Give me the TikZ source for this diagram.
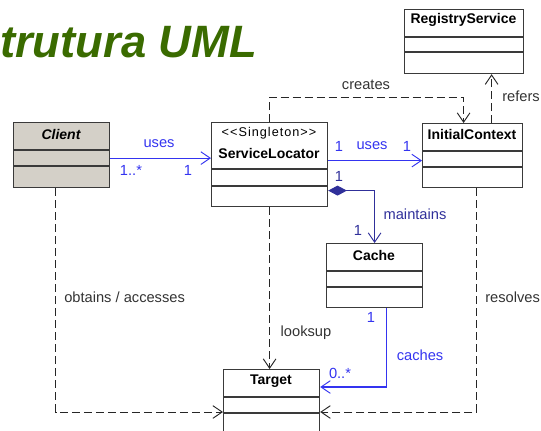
\documentclass[tikz,border=0pt]{standalone}
\usepackage{fontspec}
\setmainfont{Liberation Sans}
\usetikzlibrary{arrows.meta,calc}
\definecolor{titlegreen}{HTML}{3A6B00}
\definecolor{umlblue}{HTML}{3434F0}
\definecolor{umlnavy}{HTML}{30309A}
\definecolor{clientgray}{HTML}{D4D0C8}
\definecolor{boxline}{HTML}{3A3A3A}
\definecolor{labelgray}{HTML}{333333}
\tikzset{
  umlbox/.style={draw=boxline, line width=0.9pt, inner sep=0pt, anchor=north west},
  cname/.style={font=\fontsize{10.5}{12}\selectfont\bfseries, text=black, inner sep=0pt},
  lbl/.style={font=\fontsize{11}{13}\selectfont, text=labelgray, inner sep=0pt},
  blbl/.style={font=\fontsize{11}{13}\selectfont, text=umlblue, inner sep=0pt},
  nlbl/.style={font=\fontsize{11}{13}\selectfont, text=umlnavy, inner sep=0pt},
  openhead/.style={-{Straight Barb[length=7pt,width=9.5pt,line width=0.7pt]}},
  assoc/.style={draw=umlblue, line width=0.8pt, openhead},
  comp/.style={draw=umlnavy, line width=0.8pt, {Diamond[length=14pt,width=7.5pt,fill=umlnavy]}-{Straight Barb[length=7pt,width=9.5pt,line width=0.7pt]}},
  dep/.style={draw=black!85, line width=0.75pt, dash pattern=on 6pt off 3pt, openhead},
}
\begin{document}
\begin{tikzpicture}[x=0.75pt,y=-0.75pt]
\useasboundingbox (0,0) rectangle (541,430);

% title
\node[anchor=base west, inner sep=0pt, text=titlegreen,
      font=\fontsize{34}{38}\selectfont\bfseries\itshape] (title) at (0,57) {trutura UML};

% Client
\node[umlbox, fill=clientgray, minimum width=96*0.75pt, minimum height=65*0.75pt] (cl) at (13,122) {};
\draw[boxline, line width=0.9pt] ($(cl.north west)+(0,28)$) -- ($(cl.north east)+(0,28)$);
\draw[boxline, line width=0.9pt] ($(cl.north west)+(0,44)$) -- ($(cl.north east)+(0,44)$);
\node[cname] (clname) at (61,134) {\itshape Client};

% ServiceLocator
\node[umlbox, fill=white, minimum width=116*0.75pt, minimum height=84*0.75pt] (sl) at (211,122) {};
\draw[boxline, line width=0.9pt] ($(sl.north west)+(0,47)$) -- ($(sl.north east)+(0,47)$);
\draw[boxline, line width=0.9pt] ($(sl.north west)+(0,64)$) -- ($(sl.north east)+(0,64)$);
\node[font=\fontsize{9.5}{11}\selectfont\addfontfeatures{LetterSpace=8}, text=black, inner sep=0pt] (slst) at (269,133) {<{}<Singleton>{}>};
\node[cname] (slname) at (269,153) {ServiceLocator};

% InitialContext
\node[umlbox, fill=white, minimum width=100*0.75pt, minimum height=64*0.75pt] (ic) at (422,123) {};
\draw[boxline, line width=0.9pt] ($(ic.north west)+(0,28)$) -- ($(ic.north east)+(0,28)$);
\draw[boxline, line width=0.9pt] ($(ic.north west)+(0,44)$) -- ($(ic.north east)+(0,44)$);
\node[cname] (icname) at (472,134) {InitialContext};

% RegistryService
\node[umlbox, fill=white, minimum width=119*0.75pt, minimum height=64*0.75pt] (rs) at (404,9) {};
\draw[boxline, line width=0.9pt] ($(rs.north west)+(0,28)$) -- ($(rs.north east)+(0,28)$);
\draw[boxline, line width=0.9pt] ($(rs.north west)+(0,43)$) -- ($(rs.north east)+(0,43)$);
\node[cname] (rsname) at (463.5,20) {RegistryService};

% Cache
\node[umlbox, fill=white, minimum width=96*0.75pt, minimum height=64*0.75pt] (ca) at (326,243) {};
\draw[boxline, line width=0.9pt] ($(ca.north west)+(0,28)$) -- ($(ca.north east)+(0,28)$);
\draw[boxline, line width=0.9pt] ($(ca.north west)+(0,44)$) -- ($(ca.north east)+(0,44)$);
\node[cname] (caname) at (374,255) {Cache};

% Target
\node[umlbox, fill=white, minimum width=96*0.75pt, minimum height=66*0.75pt] (tg) at (223,369) {};
\draw[boxline, line width=0.9pt] ($(tg.north west)+(0,28)$) -- ($(tg.north east)+(0,28)$);
\draw[boxline, line width=0.9pt] ($(tg.north west)+(0,44)$) -- ($(tg.north east)+(0,44)$);
\node[cname] (tgname) at (271,381) {Target};

% Client uses ServiceLocator
\draw[assoc] ($(cl.east)+(0,3)$) -- ($(cl.east -| sl.west)+(0,3)$);
\node[blbl] (u1) at (159,144) {uses};
\node[blbl] (u1a) at (131,170) {1..*};
\node[blbl] (u1b) at (188,170) {1};

% ServiceLocator uses InitialContext
\draw[assoc] ($(sl.east)+(0,-4)$) -- ($(sl.east -| ic.west)+(0,-4)$);
\node[blbl] (u2a) at (339,146) {1};
\node[blbl] (u2) at (372,146) {uses};
\node[blbl] (u2b) at (407,146) {1};

% maintains
\draw[comp] ($(sl.east)+(0,26)$) -| (ca.north);
\node[nlbl] (m1) at (339,176) {1};
\node[nlbl] (m) at (415,214) {maintains};
\node[nlbl] (m2) at (358,230) {1};

% creates
\draw[dep] (sl.north) -- ++(0,-25) -| ($(ic.north)+(-9,0)$);
\node[lbl] (cr) at (366,85) {creates};

% refers
\draw[dep] ($(ic.north)+(19,0)$) -- ($(ic.north |- rs.south)+(19,0)$);
\node[lbl, anchor=west] (rf) at (502,96) {refers};

% looksup
\draw[dep] (sl.south) -- (sl.south |- tg.north);
\node[lbl] (lk) at (306,333) {looksup};

% obtains / accesses
\draw[dep] ($(cl.south)+(-6,0)$) |- ($(tg.north west)+(0,43)$);
\node[lbl, anchor=west] (ob) at (64,297) {obtains / accesses};

% resolves
\draw[dep] ($(ic.south)+(4,0)$) |- ($(tg.north east)+(0,43)$);
\node[lbl, anchor=west] (rv) at (485,297) {resolves};

% caches
\draw[assoc] ($(ca.south)+(12,0)$) |- ($(tg.north east)+(0,18)$);
\node[blbl] (c1) at (371,317) {1};
\node[blbl] (c) at (420,355) {caches};
\node[blbl] (c2) at (340,373) {0..*};
\end{tikzpicture}
\end{document}
